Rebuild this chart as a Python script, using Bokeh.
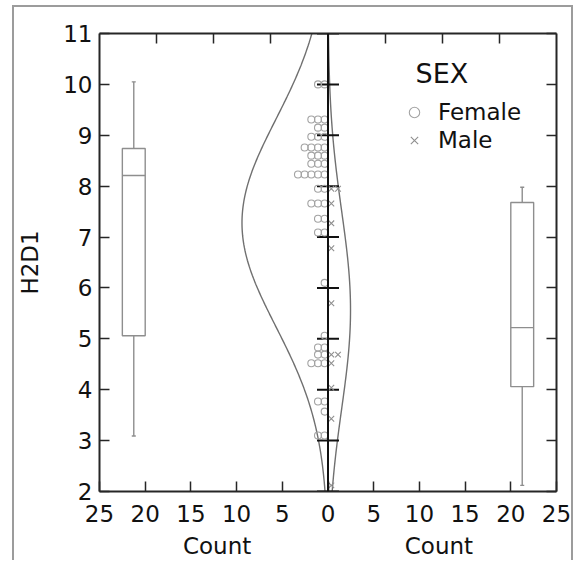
import numpy as np
from bokeh.plotting import figure
from bokeh.models import (Range1d, LinearAxis, FixedTicker, Span, Legend, LegendItem, Label)
from bokeh.embed import file_html
from bokeh.resources import INLINE

# ---------------- data ----------------
female_y = [10.0, 9.31, 9.15, 8.97, 8.76, 8.60, 8.44, 8.23, 7.95, 7.66,
            7.36, 7.09, 6.10, 5.06, 4.83, 4.69, 4.52, 3.77, 3.57, 3.10]
female_n = [2, 3, 2, 3, 4, 3, 3, 5, 2, 3, 2, 2, 1, 1, 2, 2, 3, 2, 1, 2]
male_y = [7.95, 7.66, 7.27, 6.78, 5.70, 4.69, 4.52, 4.04, 3.43, 2.12]
male_n = [2, 1, 1, 1, 1, 2, 1, 1, 1, 1]

# box plot statistics: lower whisker, Q1, median, Q3, upper whisker
female_box = [3.09, 5.06, 8.21, 8.74, 10.05]
male_box = [2.12, 4.06, 5.22, 7.68, 7.98]

count_ticks = [-25, -20, -15, -10, -5, 0, 5, 10, 15, 20, 25]
count_labels = ["25", "20", "15", "10", "5", "0", "5", "10", "15", "20", "25"]
value_ticks = [2, 3, 4, 5, 6, 7, 8, 9, 10, 11]
top_ticks = [-18.8, -12.55, -6.27, 6.27, 12.55, 18.8]

# ---------------- styles ----------------
FONT = "DejaVu Sans"
FS = "23px"
AX = "#262626"
DOT = "#a3a3a3"
CURVE = "#707070"
BOX = "#8e8e8e"
STEP = 0.73          # horizontal spacing of stacked dots (count units)
BOX_C = 21.25        # box centre (count units from 0)
BOX_HW = 1.25
CAP_HW = 0.22
NB = "\u00a0"

p = figure(width=561, height=555, x_range=Range1d(-25, 25), y_range=Range1d(2, 11),
           output_backend="svg", toolbar_location=None,
           min_border_left=83, min_border_right=19, min_border_top=26, min_border_bottom=71)
p.styles = {"margin-left": "12px", "margin-top": "5px",
            "border-left": "2px solid #9c9c9c", "border-top": "2px solid #9c9c9c",
            "border-right": "2px solid #9c9c9c"}
p.grid.visible = False
p.outline_line_color = None
p.background_fill_color = "white"
p.border_fill_color = "white"

def style_axis(ax):
    ax.axis_line_color = AX
    ax.axis_line_width = 2
    ax.major_tick_line_color = AX
    ax.major_tick_line_width = 1.5
    ax.major_tick_in = 10
    ax.major_tick_out = 0
    ax.minor_tick_line_color = None
    ax.major_label_text_font = FONT
    ax.major_label_text_font_size = FS
    ax.major_label_text_color = "#111111"
    ax.axis_label_text_font = FONT
    ax.axis_label_text_font_size = FS
    ax.axis_label_text_font_style = "normal"
    ax.axis_label_text_color = "#111111"

xa = p.xaxis[0]
xa.ticker = FixedTicker(ticks=count_ticks)
xa.major_label_overrides = {t: l for t, l in zip(count_ticks, count_labels)}
style_axis(xa)
xa.major_label_standoff = 13
# one "Count" title under each half of the axis
xa.axis_label = "Count" + NB * 21 + "Count"
xa.axis_label_standoff = 8

ya = p.yaxis[0]
ya.ticker = FixedTicker(ticks=value_ticks)
style_axis(ya)
ya.axis_label = "H2D1"
ya.major_label_standoff = 7
ya.axis_label_standoff = 17

top = LinearAxis(ticker=FixedTicker(ticks=top_ticks),
                 major_label_overrides={t: "" for t in top_ticks})
style_axis(top)
p.add_layout(top, "above")

right = LinearAxis(ticker=FixedTicker(ticks=value_ticks),
                   major_label_overrides={t: "" for t in value_ticks})
style_axis(right)
p.add_layout(right, "right")

# ---------------- stacked dots ----------------
fx, fy = [], []
for yv, n in zip(female_y, female_n):
    for k in range(n):
        fx.append(-(k + 0.5) * STEP)
        fy.append(yv)
mx, my = [], []
for yv, n in zip(male_y, male_n):
    for k in range(n):
        mx.append((k + 0.5) * STEP)
        my.append(yv)

# ---------------- normal curves fitted to each group ----------------
yy = np.linspace(2, 11, 300)
def normal_counts(vals):
    v = np.asarray(vals)
    mu, sd = v.mean(), v.std(ddof=1)
    return len(v) * np.exp(-0.5 * ((yy - mu) / sd) ** 2) / (sd * np.sqrt(2 * np.pi))

p.line(-normal_counts(fy), yy, line_color=CURVE, line_width=1.4)
p.line(normal_counts(my), yy, line_color=CURVE, line_width=1.4)

# centre axis with cross ticks
p.add_layout(Span(location=0, dimension="height", line_color="#111111", line_width=2))
p.scatter(x=[0] * len(value_ticks), y=value_ticks, marker="dash", size=22,
          line_color="#111111", line_width=2)

rf = p.scatter(fx, fy, marker="circle", size=7, fill_color=None,
               line_color=DOT, line_width=1.1)
rm = p.scatter(mx, my, marker="x", size=8, line_color="#8f8f8f", line_width=1.1)

# ---------------- box plots ----------------
for sign, b in ((-1, female_box), (1, male_box)):
    lo, q1, med, q3, hi = b
    c = sign * BOX_C
    p.quad(left=[c - BOX_HW], right=[c + BOX_HW], bottom=[q1], top=[q3],
           fill_color=None, line_color=BOX, line_width=1.4)
    p.segment(x0=[c - BOX_HW, c, c, c - CAP_HW, c - CAP_HW],
              x1=[c + BOX_HW, c, c, c + CAP_HW, c + CAP_HW],
              y0=[med, q3, q1, hi, lo], y1=[med, hi, lo, hi, lo],
              line_color=BOX, line_width=1.4)

# ---------------- legend ----------------
p.add_layout(Label(x=316, y=418, x_units="screen", y_units="screen", text="SEX",
                   text_align="left", text_baseline="alphabetic",
                   text_font=FONT, text_font_size="27px", text_color="#111111"))
legend = Legend(items=[LegendItem(label="Female", renderers=[rf]),
                       LegendItem(label="Male", renderers=[rm])],
                location=(302, 338),
                label_text_font=FONT, label_text_font_size=FS, label_text_color="#111111",
                glyph_width=26, glyph_height=26, label_standoff=11, spacing=2,
                padding=0, margin=0, border_line_color=None, background_fill_alpha=0)
p.add_layout(legend)

open("out.html", "w").write(file_html(p, INLINE))
